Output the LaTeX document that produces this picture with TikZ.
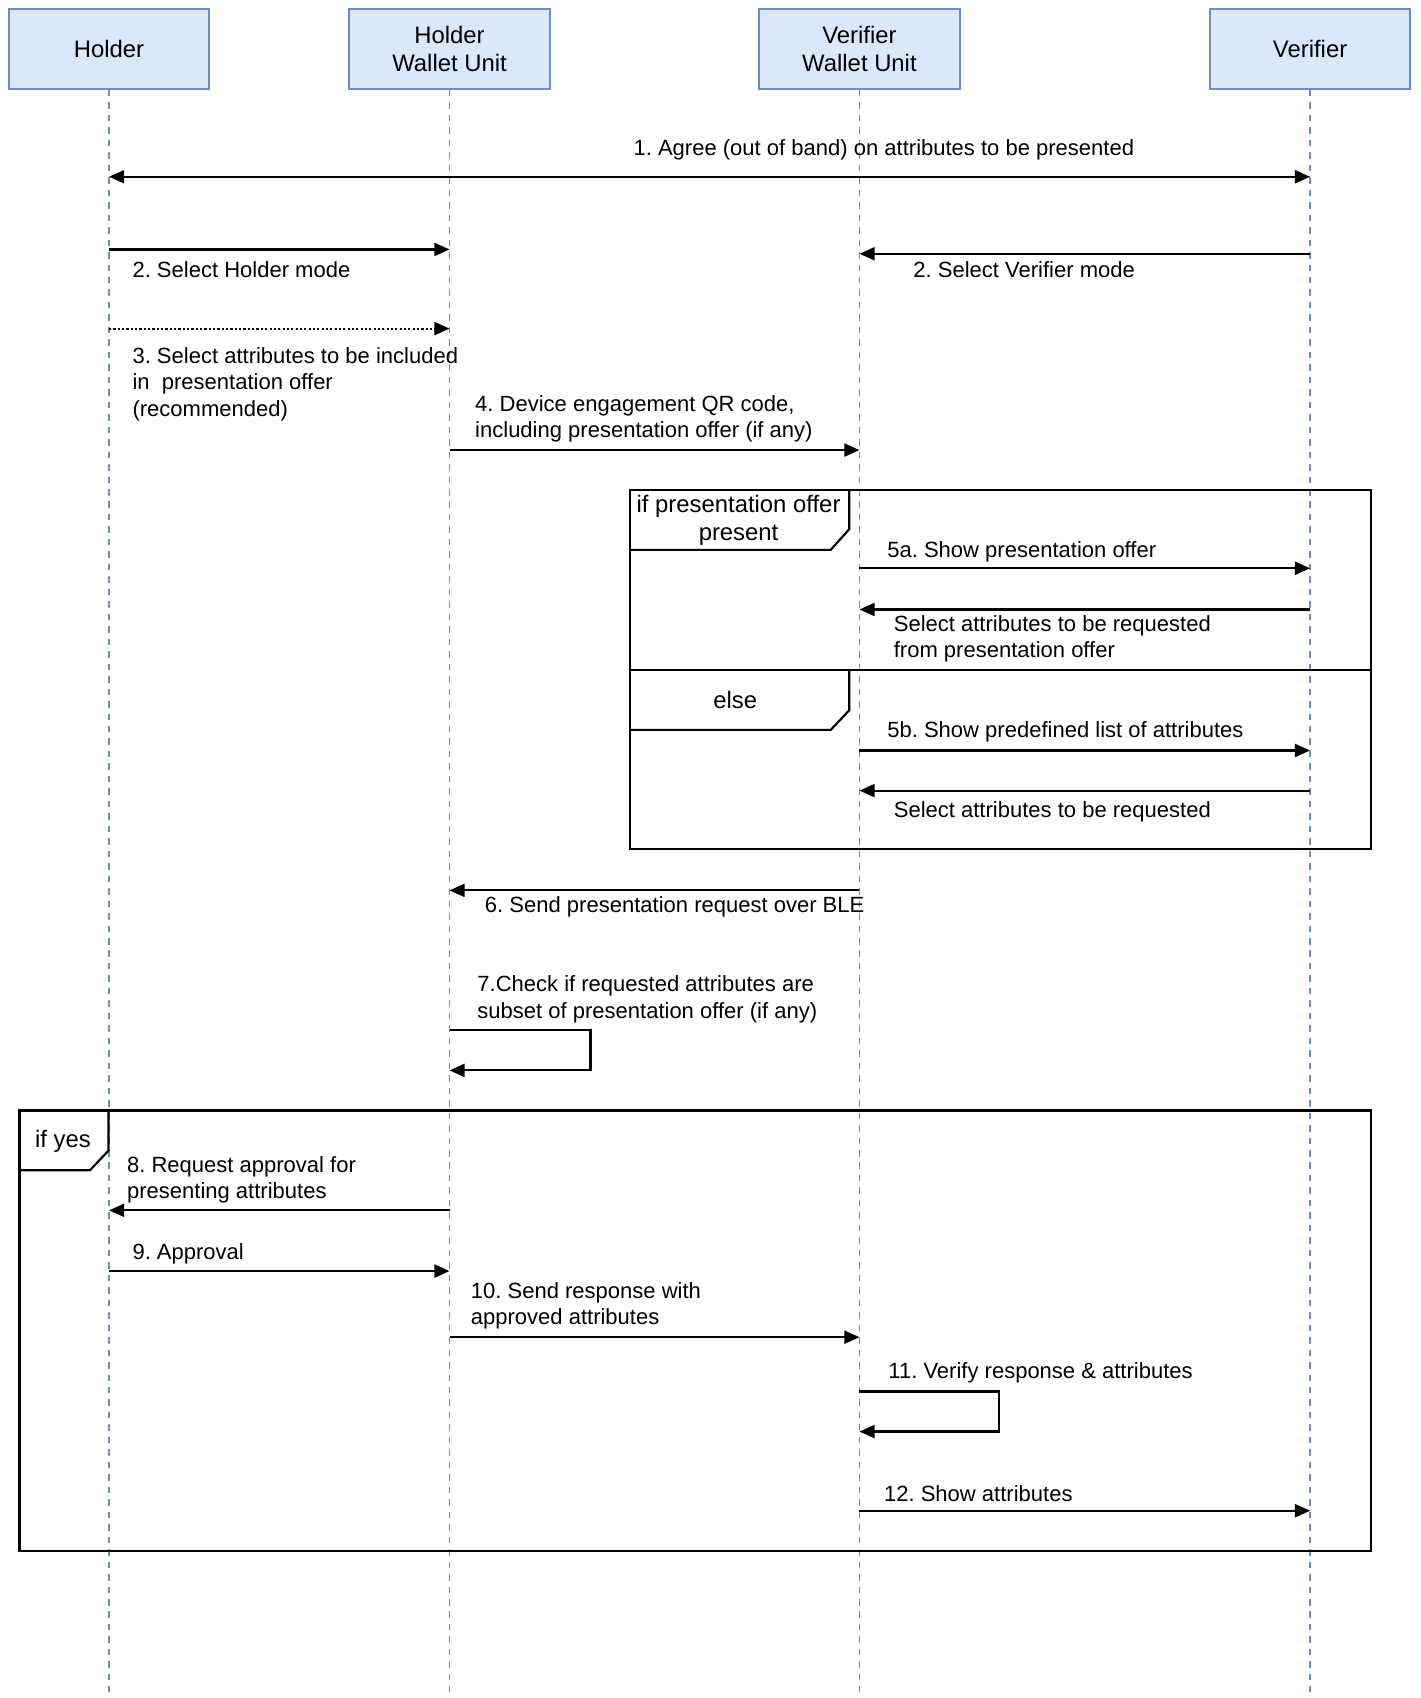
\documentclass[tikz,border=0pt]{standalone}
\usepackage{fontspec}
\setmainfont{Liberation Sans}
\usetikzlibrary{arrows.meta,calc}
\definecolor{actorfill}{HTML}{DAE8FC}
\definecolor{actorline}{HTML}{6C8EBF}
\frenchspacing
\tikzset{
  actor/.style={draw=actorline, fill=actorfill, line width=1.8pt, minimum width=185pt, minimum height=74pt, align=center, inner sep=0pt, font=\fontsize{22}{26}\selectfont},
  lifeline/.style={draw=actorline, line width=1.6pt, dash pattern=on 6pt off 5.5pt},
  msg/.style={draw=black, line width=2pt, -{Triangle[length=14pt,width=12pt]}},
  dmsg/.style={draw=black, line width=2pt, {Triangle[length=14pt,width=12pt]}-{Triangle[length=14pt,width=12pt]}},
  lbl/.style={anchor=west, align=left, inner sep=0pt},
  ctr/.style={align=center, inner sep=0pt, font=\fontsize{22}{26}\selectfont},
  frame/.style={draw=black, line width=2pt},
}
\begin{document}
\begin{tikzpicture}[x=1pt, y=-1pt, font=\fontsize{20.3}{24.5}\selectfont]
\useasboundingbox (0,0) rectangle (1309.5,1565.7);
% participants
\node[actor] (holder) at (100.5,45) {Holder};
\node[actor] (hwu) at (414.5,45) {Holder\\Wallet Unit};
\node[actor] (vwu) at (792.5,45) {Verifier\\Wallet Unit};
\node[actor] (ver) at (1208,45) {Verifier};
\coordinate (bottom) at (0,1560);
\foreach \p in {holder,hwu,vwu,ver}{
  \draw[lifeline] (\p.south) -- (\p.south |- bottom);
}
% message rows
\coordinate (y1) at (0,163);
\coordinate (y2) at (0,230);
\coordinate (y2b) at (0,234);
\coordinate (y3) at (0,303);
\coordinate (y4) at (0,415);
\coordinate (y5a) at (0,524);
\coordinate (y5ar) at (0,562);
\coordinate (y5b) at (0,692);
\coordinate (y5br) at (0,729);
\coordinate (y6) at (0,821);
\coordinate (y7a) at (0,950);
\coordinate (y7b) at (0,987);
\coordinate (y8) at (0,1116);
\coordinate (y9) at (0,1172);
\coordinate (y10) at (0,1233);
\coordinate (y11a) at (0,1283);
\coordinate (y11b) at (0,1320);
\coordinate (y12) at (0,1393);
% frames
\coordinate (f1a) at (581,452);
\coordinate (f1b) at (1264,783);
\draw[frame] (f1a) rectangle (f1b);
\draw[frame] (581,618) -- (1264,618);
\draw[frame] (581,507) -- (766,507) -- (783,488) -- (783,452);
\draw[frame] (581,673) -- (766,673) -- (783,655) -- (783,618);
\node[ctr] (alt1) at (681,479.5) {if presentation offer\\present};
\node[ctr] (alt2) at (678,645) {else};
\coordinate (f2a) at (18,1024);
\coordinate (f2b) at (1264,1430);
\draw[frame] (f2a) rectangle (f2b);
\draw[frame] (18,1079) -- (83,1079) -- (100,1061) -- (100,1024);
\node[ctr] (opt) at (58,1052) {if yes};
% messages
\draw[dmsg] (holder |- y1) -- (ver |- y1);
\node[lbl] (l1) at (584,138) {1. Agree (out of band) on attributes to be presented};
\draw[msg] (holder |- y2) -- (hwu |- y2);
\node[lbl] (l2) at (122,249) {2. Select Holder mode};
\draw[msg] (ver |- y2b) -- (vwu |- y2b);
\node[lbl] (l2b) at (842,249) {2. Select Verifier mode};
\draw[msg, dotted] (holder |- y3) -- (hwu |- y3);
\node[lbl] (l3) at (122,354) {3. Select attributes to be included\\in\ \ presentation offer\\(recommended)};
\draw[msg] (hwu |- y4) -- (vwu |- y4);
\node[lbl] (l4) at (438,386) {4. Device engagement QR code,\\including presentation offer (if any)};
\draw[msg] (vwu |- y5a) -- (ver |- y5a);
\node[lbl] (l5a) at (818,509) {5a. Show presentation offer};
\draw[msg] (ver |- y5ar) -- (vwu |- y5ar);
\node[lbl] (l5ar) at (824,589) {Select attributes to be requested\\from presentation offer};
\draw[msg] (vwu |- y5b) -- (ver |- y5b);
\node[lbl] (l5b) at (818,675) {5b. Show predefined list of attributes};
\draw[msg] (ver |- y5br) -- (vwu |- y5br);
\node[lbl] (l5br) at (824,749) {Select attributes to be requested};
\draw[msg] (vwu |- y6) -- (hwu |- y6);
\node[lbl] (l6) at (447,836) {6. Send presentation request over BLE};
\draw[msg] (hwu |- y7a) -- ++(130,0) -- ++(0,37) -- (hwu |- y7b);
\node[lbl] (l7) at (440,921.5) {7.Check if requested attributes are\\subset of presentation offer (if any)};
\draw[msg] (hwu |- y8) -- (holder |- y8);
\node[lbl] (l8) at (117,1088) {8. Request approval for\\presenting attributes};
\draw[msg] (holder |- y9) -- (hwu |- y9);
\node[lbl] (l9) at (122,1156) {9. Approval};
\draw[msg] (hwu |- y10) -- (vwu |- y10);
\node[lbl] (l10) at (434,1204) {10. Send response with\\approved attributes};
\draw[msg] (vwu |- y11a) -- ++(129,0) -- ++(0,37) -- (vwu |- y11b);
\node[lbl] (l11) at (819,1266) {11. Verify response \& attributes};
\draw[msg] (vwu |- y12) -- (ver |- y12);
\node[lbl] (l12) at (815,1377) {12. Show attributes};
\end{tikzpicture}
\end{document}
